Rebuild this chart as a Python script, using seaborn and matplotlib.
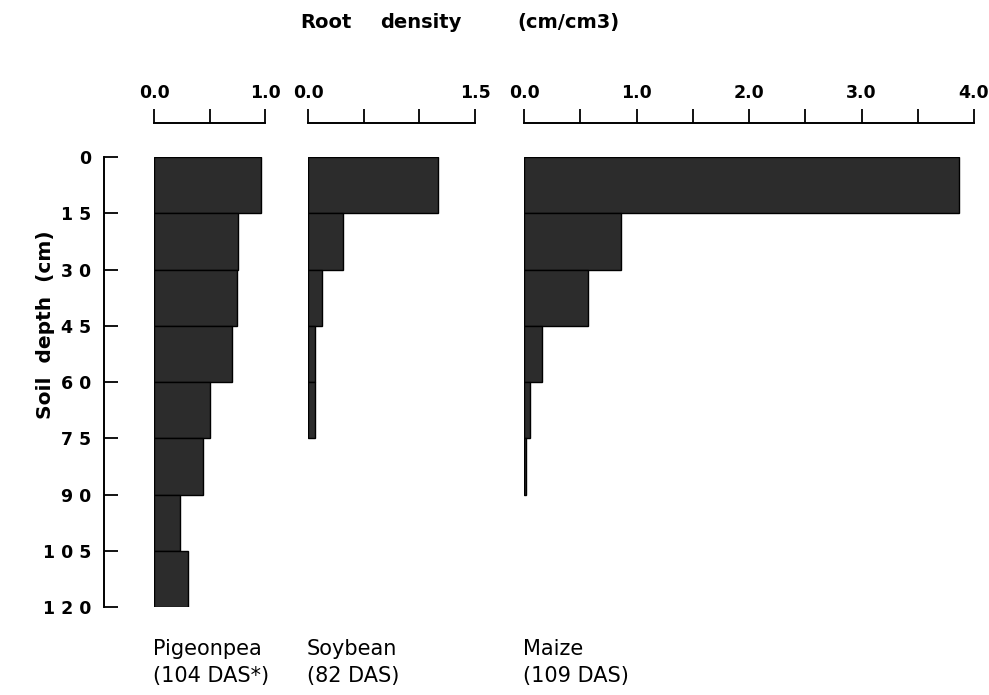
import matplotlib
matplotlib.use("Agg")
import matplotlib.pyplot as plt
import seaborn as sns
import pandas as pd

# ---- data ----
depth_intervals = ["0-15", "15-30", "30-45", "45-60", "60-75", "75-90", "90-105", "105-120"]
depth_tick_labels = ["0", "1 5", "3 0", "4 5", "6 0", "7 5", "9 0", "1 0 5", "1 2 0"]

pigeonpea = [0.96, 0.76, 0.75, 0.70, 0.50, 0.44, 0.23, 0.31]
soybean = [1.17, 0.31, 0.13, 0.065, 0.065]
maize = [3.87, 0.86, 0.57, 0.16, 0.05, 0.015]

crop_names = ["Pigeonpea\n(104 DAS*)", "Soybean\n(82 DAS)", "Maize\n(109 DAS)"]
x_max = [1.0, 1.5, 4.0]
x_ticks = [[0.0, 0.5, 1.0],
           [0.0, 0.5, 1.0, 1.5],
           [0.0, 0.5, 1.0, 1.5, 2.0, 2.5, 3.0, 3.5, 4.0]]
x_ticklabels = [["0.0", "", "1.0"],
                ["0.0", "", "", "1.5"],
                ["0.0", "", "1.0", "", "2.0", "", "3.0", "", "4.0"]]

sns.set_theme(style="white")
plt.rcParams["font.family"] = ["DejaVu Sans"]

W, H = 989, 695
fig = plt.figure(figsize=(W / 100, H / 100), dpi=100)
fig.patch.set_facecolor("white")

PX = 72 / 100  # points per pixel

# panel pixel extents (left, right)
panels_px = [(154, 265), (308, 475), (524, 974)]
top_px, bot_px = 157, 607

bar_color = "#2c2c2c"
series = [pigeonpea, soybean, maize]

for i, ((l, r), vals) in enumerate(zip(panels_px, series)):
    ax = fig.add_axes([l / W, 1 - bot_px / H, (r - l) / W, (bot_px - top_px) / H])
    ax.set_facecolor("none")
    df = pd.DataFrame({"depth": depth_intervals[:len(vals)], "density": vals})
    sns.barplot(data=df, x="density", y="depth", order=depth_intervals, orient="h",
                width=1.0, color=bar_color, saturation=1, edgecolor="black",
                linewidth=1.0, ax=ax)
    ax.set_xlim(0, x_max[i])
    ax.set_ylim(7.5, -0.5)
    ax.set_xlabel("")
    ax.set_ylabel("")

    # top axis
    ax.xaxis.tick_top()
    ax.spines["top"].set_position(("outward", 34 * PX))
    ax.spines["top"].set_linewidth(1.4)
    ax.spines["top"].set_color("black")
    ax.spines["bottom"].set_visible(False)
    ax.spines["right"].set_visible(False)
    ax.set_xticks(x_ticks[i])
    ax.set_xticklabels(x_ticklabels[i], fontsize=12.5, fontweight="bold")
    ax.tick_params(axis="x", which="major", top=True, bottom=False, direction="out",
                   length=14 * PX, width=1.3, color="black", pad=5, labelcolor="black")

    if i == 0:
        ax.spines["left"].set_position(("outward", 50 * PX))
        ax.spines["left"].set_linewidth(1.4)
        ax.spines["left"].set_color("black")
        ax.set_yticks([k - 0.5 for k in range(len(depth_tick_labels))])
        ax.set_yticklabels(depth_tick_labels, fontsize=12.5, fontweight="bold")
        ax.tick_params(axis="y", which="major", left=True, direction="in",
                       length=14 * PX, width=1.3, color="black", pad=9, labelcolor="black")
    else:
        ax.spines["left"].set_visible(False)
        ax.set_yticks([])
    ax.grid(False)

    # crop label under each panel
    fig.text((l - 1) / W, 1 - 639 / H, crop_names[i], ha="left", va="top",
             fontsize=15, linespacing=1.45, color="black")

# title pieces (wide word spacing as in reference)
for word, xpx in [("Root", 300), ("density", 380), ("(cm/cm3)", 517)]:
    fig.text(xpx / W, 1 - 28 / H, word, ha="left", va="baseline",
             fontsize=14, fontweight="bold", color="black")

fig.text(46 / W, 1 - 325 / H, "Soil  depth  (cm)", rotation=90, ha="center",
         va="center", fontsize=14.5, fontweight="bold", color="black")

fig.savefig("out.png", dpi=100, facecolor="white")
